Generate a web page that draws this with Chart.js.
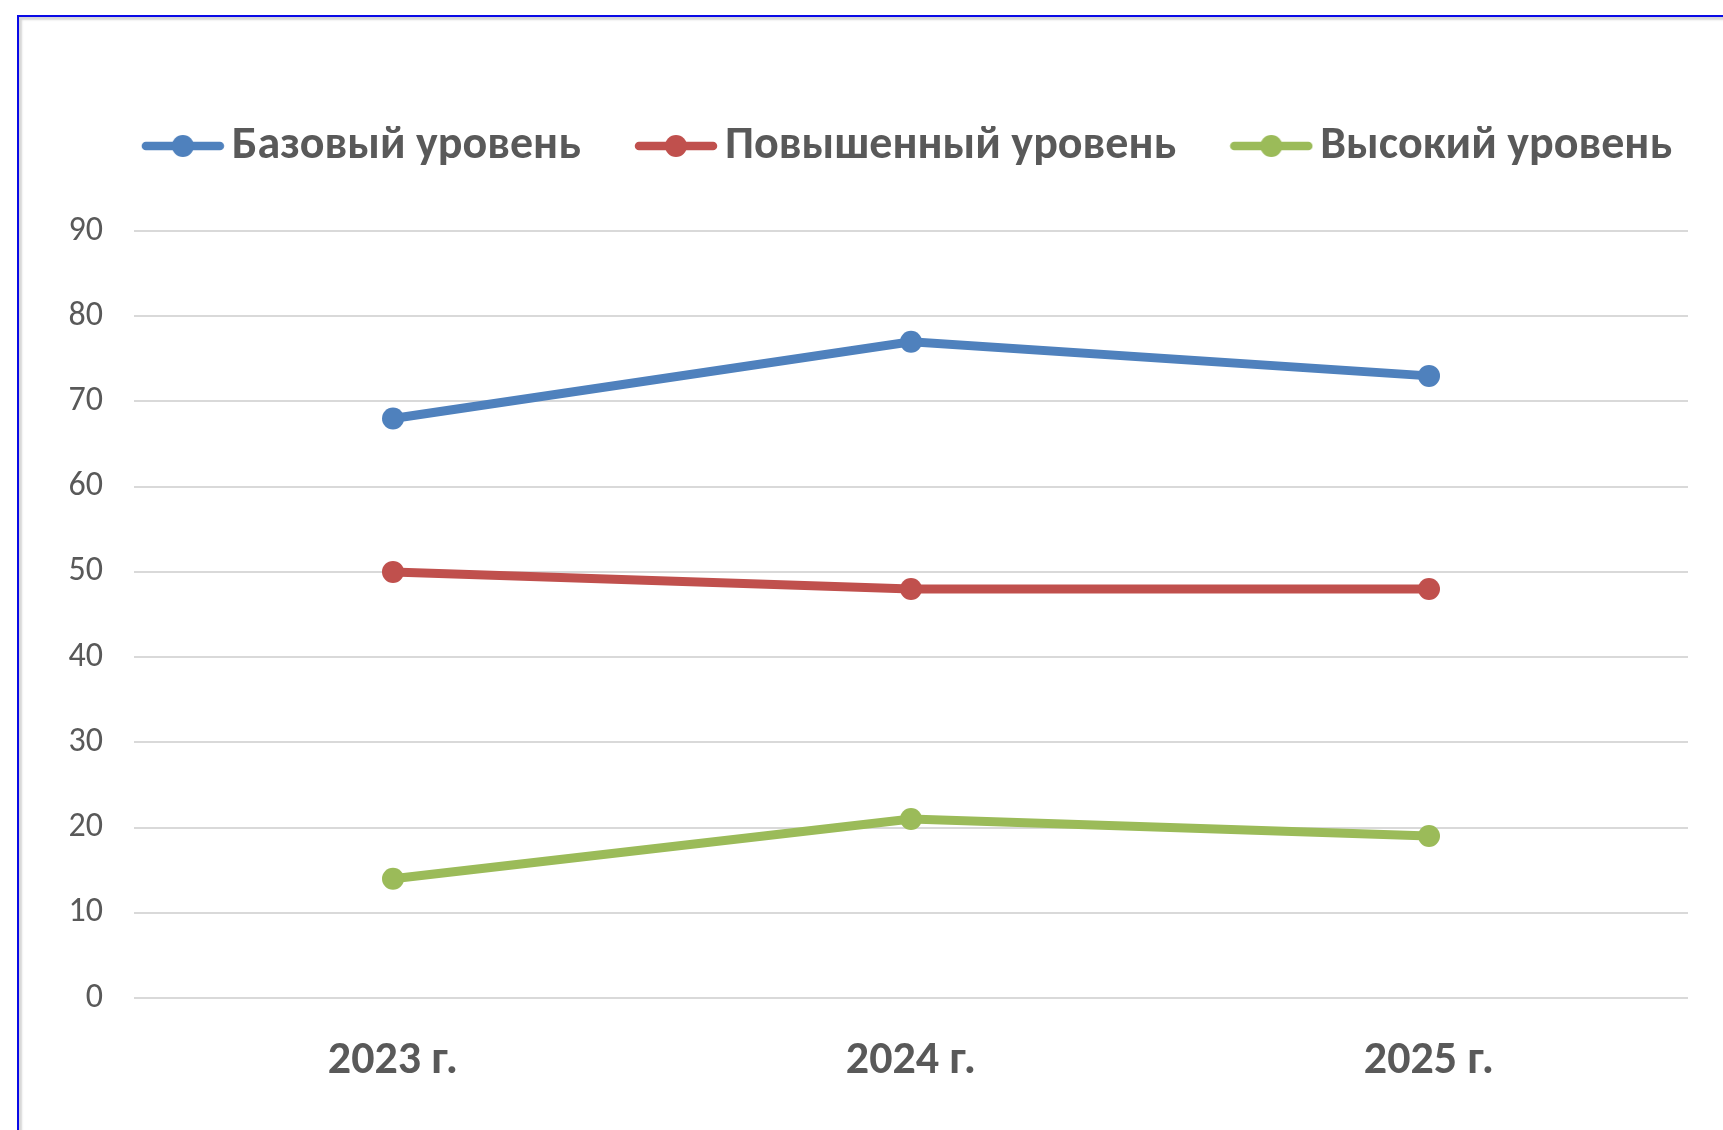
<!DOCTYPE html>
<html lang="ru">
<head>
<meta charset="utf-8">
<title>Уровни</title>
<script src="https://cdn.jsdelivr.net/npm/chart.js@4.4.1/dist/chart.umd.min.js"></script>
<style>
  html, body { margin: 0; padding: 0; background: #ffffff; overflow: hidden; width: 1723px; height: 1130px; }
  #frame {
    position: absolute; left: 17px; top: 15px; width: 1820px; height: 1200px;
    border-top: 2px solid #0a0ae6; border-left: 2px solid #0a0ae6;
    box-shadow: inset 3px 3px 2px rgba(0,0,0,0.16);
  }
  #chart { position: absolute; left: 0; top: 0; }
</style>
</head>
<body>
<div id="frame"><canvas id="chart" width="1791" height="1081"></canvas></div>
<script>
// Categories and series
const years = ['2023 г.', '2024 г.', '2025 г.'];
const basicLevel = [68, 77, 73];
const advancedLevel = [50, 48, 48];
const highLevel = [14, 21, 19];
const seriesNames = ['Базовый уровень', 'Повышенный уровень', 'Высокий уровень'];
const yTicks = [0, 10, 20, 30, 40, 50, 60, 70, 80, 90];

const FONT = 'Carlito, Calibri, "Noto Sans", sans-serif';
const TEXT = '#595959';
const colors = ['#4f81bd', '#c0504d', '#9bbb59'];

// Legend symbol: a short line with a dot in the middle
function legendMark(color) {
  const cv = document.createElement('canvas');
  cv.width = 84; cv.height = 26;
  const g = cv.getContext('2d');
  g.strokeStyle = color; g.lineWidth = 8.5; g.lineCap = 'round';
  g.beginPath(); g.moveTo(5, 13); g.lineTo(79, 13); g.stroke();
  g.fillStyle = color; g.beginPath(); g.arc(42, 13, 11, 0, Math.PI * 2); g.fill();
  return cv;
}

// Extra room between the legend row and the plot
const legendGap = {
  id: 'legendGap',
  beforeInit(chart) {
    const fit = chart.legend.fit;
    chart.legend.fit = function () {
      fit.call(this);
      this.height += 52;
    };
  }
};

const seriesData = [basicLevel, advancedLevel, highLevel];
new Chart(document.getElementById('chart'), {
  type: 'line',
  data: {
    labels: years,
    datasets: seriesNames.map((name, i) => ({
      label: name,
      data: seriesData[i],
      yAxisID: 'y',
      borderColor: colors[i],
      backgroundColor: colors[i],
      borderWidth: 9,
      pointRadius: 11,
      pointBorderWidth: 0,
      pointHoverRadius: 11,
      pointStyle: 'circle',
      tension: 0,
      fill: false
    }))
  },
  options: {
    responsive: false,
    animation: false,
    events: [],
    layout: { padding: { top: 37, left: 0, right: 0, bottom: 0 } },
    plugins: {
      tooltip: { enabled: false },
      legend: {
        position: 'top',
        labels: {
          color: TEXT,
          font: { family: FONT, size: 46, weight: 'bold' },
          usePointStyle: true,
          pointStyleWidth: 52,
          padding: 69,
          generateLabels(chart) {
            return chart.data.datasets.map((ds, i) => ({
              text: ds.label, fontColor: TEXT, pointStyle: legendMark(colors[i]),
              datasetIndex: i, hidden: false, lineWidth: 0, strokeStyle: 'transparent', fillStyle: 'transparent'
            }));
          }
        }
      }
    },
    scales: {
      x: {
        offset: true,
        grid: { display: false, drawTicks: false },
        border: { display: false },
        ticks: { color: TEXT, padding: 36, font: { family: FONT, size: 46, weight: 'bold' } },
        afterFit(scale) { scale.height = 100; }
      },
      y: {
        min: 0, max: 90,
        afterBuildTicks(scale) { scale.ticks = yTicks.map(v => ({ value: v })); },
        grid: { color: '#d9d9d9', lineWidth: 2, drawTicks: false },
        border: { display: false },
        ticks: { color: TEXT, padding: 31, font: { family: FONT, size: 34 } },
        afterFit(scale) { scale.width = 115; }
      },
      // empty margin on the right of the plot
      spacer: {
        position: 'right',
        grid: { display: false, drawTicks: false },
        border: { display: false },
        ticks: { display: false },
        afterFit(scale) { scale.width = 122; }
      }
    }
  },
  plugins: [legendGap]
});
</script>
</body>
</html>
